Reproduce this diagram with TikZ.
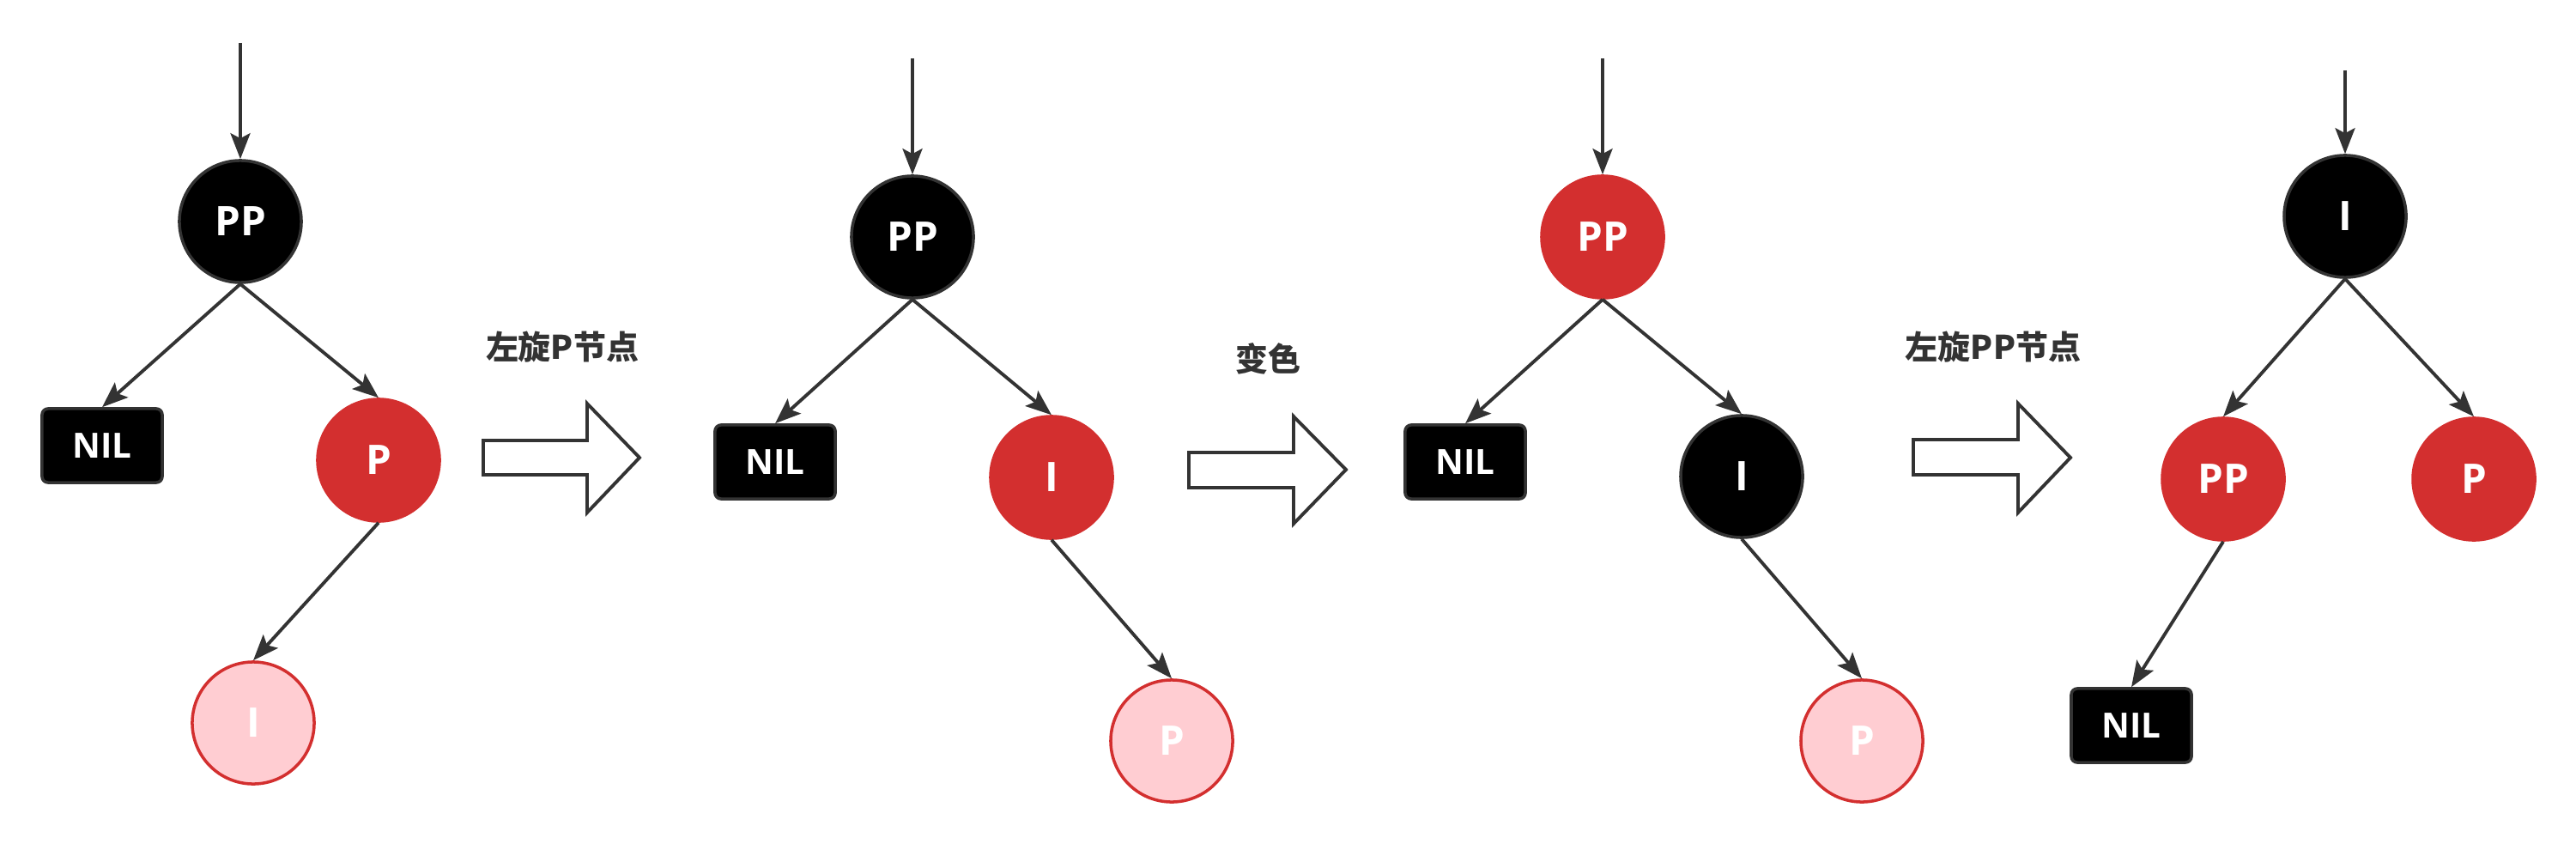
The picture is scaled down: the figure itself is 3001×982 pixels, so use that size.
\documentclass[tikz,border=0pt]{standalone}
\usepackage{fontspec}
\setmainfont{Open Sans}
\newfontfamily\cjk{Noto Sans CJK SC}
\usetikzlibrary{arrows.meta}
\definecolor{rbred}{HTML}{D32F2F}
\definecolor{rbpink}{HTML}{FFCDD2}
\definecolor{rbgray}{HTML}{333333}
\tikzset{
  rbnode/.style={circle, minimum size=1.42cm, inner sep=0pt, line width=1pt,
    font=\fontsize{13.5}{16}\selectfont\bfseries, text=white},
  blk/.style={rbnode, fill=black, draw=rbgray},
  red/.style={rbnode, fill=rbred, draw=rbred},
  pink/.style={rbnode, fill=rbpink, draw=rbred},
  nil/.style={rectangle, rounded corners=0.07cm, minimum width=1.40cm, minimum height=0.86cm,
    fill=black, draw=rbgray, line width=1pt, inner sep=0pt,
    font=\fontsize{11.5}{14}\selectfont\bfseries, text=white},
  edge/.style={draw=rbgray, line width=1.1pt, -{Stealth[length=0.3cm,width=0.23cm,inset=0.06cm]}},
  lbl/.style={font=\cjk\fontsize{10.8}{13}\selectfont\bfseries, text=rbgray, inner sep=0pt},
  hollow/.style={draw=rbgray, fill=white, line width=1.1pt, line join=miter}
}
\begin{document}
\begin{tikzpicture}[x=0.01cm, y=-0.01cm]
\useasboundingbox (0,0) rectangle (3001,982);
% ---------- panel 1
\coordinate (t1) at (280,50);
\node[blk] (pp1) at (280,258) {PP};
\node[nil] (nil1) at (119,519) {NIL};
\node[red] (p1) at (441,536) {P};
\node[pink] (i1) at (295,842) {I};
\draw[edge] (t1) -- (pp1.north);
\draw[edge] (pp1.south) -- (nil1.north);
\draw[edge] (pp1.south) -- (p1.north);
\draw[edge] (p1.south) -- (i1.north);
\node[lbl] (l1) at (655,404) {左旋P节点};
\draw[hollow] (563,513) -- (684,513) -- (684,470) -- (745,533) -- (684,597) -- (684,553) -- (563,553) -- cycle;
% ---------- panel 2
\coordinate (t2) at (1063,68);
\node[blk] (pp2) at (1063,276) {PP};
\node[nil] (nil2) at (903,538) {NIL};
\node[red] (i2) at (1225,556) {I};
\node[pink] (p2) at (1365,863) {P};
\draw[edge] (t2) -- (pp2.north);
\draw[edge] (pp2.south) -- (nil2.north);
\draw[edge] (pp2.south) -- (i2.north);
\draw[edge] (i2.south) -- (p2.north);
\node[lbl] (l2) at (1477,418) {变色};
\draw[hollow] (1385,527) -- (1507,527) -- (1507,485) -- (1568,547) -- (1507,610) -- (1507,568) -- (1385,568) -- cycle;
% ---------- panel 3
\coordinate (t3) at (1867,68);
\node[red] (pp3) at (1867,276) {PP};
\node[nil] (nil3) at (1707,538) {NIL};
\node[blk] (i3) at (2029,555) {I};
\node[pink] (p3) at (2169,863) {P};
\draw[edge] (t3) -- (pp3.north);
\draw[edge] (pp3.south) -- (nil3.north);
\draw[edge] (pp3.south) -- (i3.north);
\draw[edge] (i3.south) -- (p3.north);
\node[lbl] (l3) at (2322,404) {左旋PP节点};
\draw[hollow] (2229,512) -- (2351,512) -- (2351,470) -- (2412,533) -- (2351,597) -- (2351,553) -- (2229,553) -- cycle;
% ---------- panel 4
\coordinate (t4) at (2732,82);
\node[blk] (i4) at (2732,252) {I};
\node[red] (pp4) at (2590,558) {PP};
\node[red] (p4) at (2882,558) {P};
\node[nil] (nil4) at (2483,845) {NIL};
\draw[edge] (t4) -- (i4.north);
\draw[edge] (i4.south) -- (pp4.north);
\draw[edge] (i4.south) -- (p4.north);
\draw[edge] (pp4.south) -- (nil4.north);
\end{tikzpicture}
\end{document}
